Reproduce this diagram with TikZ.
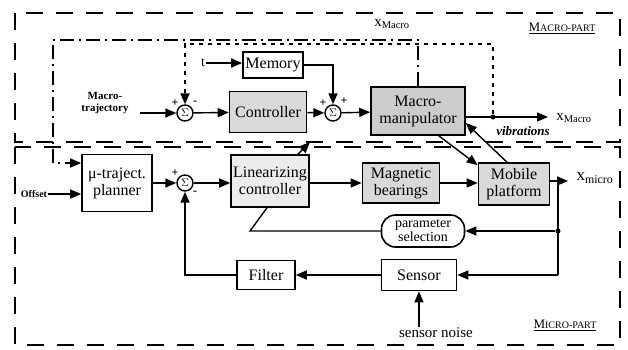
\documentclass[tikz,border=0pt]{standalone}
\usepackage{fontspec}
\setmainfont{Liberation Serif}
\usetikzlibrary{arrows.meta}

\begin{document}
\begin{tikzpicture}[x=1pt,y=-1pt,
        >={Triangle[length=11pt,width=9pt]},
        block/.style={draw,line width=1.6pt,align=center,inner sep=1pt,
            font=\fontsize{16}{17}\selectfont},
        shaded/.style={block,fill=gray!30},
        sumnode/.style={circle,draw,line width=1.4pt,inner sep=0pt,
            minimum size=16pt,font=\fontsize{11}{11}\selectfont},
        link/.style={line width=1.4pt},
        xlink/.style={line width=1.6pt,dash pattern=on 14pt off 5pt on 2pt off 5pt},
        fblink/.style={line width=2pt,dash pattern=on 4pt off 5pt},
        part/.style={line width=2pt,dash pattern=on 17pt off 13pt},
        dot/.style={circle,fill,inner sep=0pt,minimum size=5pt},
        sign/.style={inner sep=0pt,font=\fontsize{12}{12}\selectfont\bfseries},
        tag/.style={inner sep=1pt,align=center}]
        \useasboundingbox (0,0) rectangle (628,349);
        \draw[part] (15,13) rectangle (620,142);
        \draw[part] (15,147) rectangle (620,345);
        \node[tag,font=\fontsize{13}{13}\selectfont] (macrotag) at (562,28)
            {\underline{M{\fontsize{10}{10}\selectfont ACRO-PART}}};
        \node[tag,font=\fontsize{13}{13}\selectfont] (microtag) at (565,325)
            {\underline{M{\fontsize{10}{10}\selectfont ICRO-PART}}};

        \node[block,minimum width=60pt,minimum height=26pt] (memory) at (273,65) {Memory};
        \node[shaded,minimum width=77pt,minimum height=41pt] (controller) at (268,112) {Controller};
        \node[shaded,fill=gray!40,minimum width=94pt,minimum height=48pt] (mm) at (418,111) {Macro-\\manipulator};
        \node[block,minimum width=70pt,minimum height=57pt] (planner) at (117,183) {μ-traject.\\planner};
        \node[shaded,fill=gray!15,minimum width=78pt,minimum height=52pt] (lincon) at (270,181) {Linearizing\\controller};
        \node[shaded,minimum width=77pt,minimum height=40pt] (bearings) at (401,183) {Magnetic\\bearings};
        \node[shaded,minimum width=71pt,minimum height=42pt] (platform) at (514,184) {Mobile\\platform};
        \node[block,rounded corners=14pt,minimum width=83pt,minimum height=32pt,
            font=\fontsize{14}{14}\selectfont] (param) at (423,231) {parameter\\selection};
        \node[block,minimum width=75pt,minimum height=31pt] (sensor) at (419,275) {Sensor};
        \node[block,minimum width=58pt,minimum height=29pt] (filter) at (266,275) {Filter};

        \node[sumnode] (sum1) at (185,113) {$\Sigma$};
        \node[sumnode] (sum2) at (333,113) {$\Sigma$};
        \node[sumnode] (sum3) at (185,183) {$\Sigma$};
        \node[sign] at ([shift={(-10,-10)}]sum1) {+};
        \node[sign] at ([shift={(10,-10)}]sum1) {-};
        \node[sign] at ([shift={(-10,-10)}]sum2) {+};
        \node[sign] at ([shift={(11,-12)}]sum2) {+};
        \node[sign] at ([shift={(-10,-10)}]sum3) {+};
        \node[sign] at ([shift={(10,10)}]sum3) {-};

        \node[tag,font=\fontsize{11}{12}\selectfont\bfseries] (mtraj) at (105,103) {Macro-\\trajectory};
        \node[tag,font=\fontsize{10}{10}\selectfont\bfseries] (offset) at (34,194) {Offset};
        \node[tag,font=\fontsize{14}{14}\selectfont] (tin) at (203,63) {t};
        \node[tag,font=\fontsize{15}{15}\selectfont] (xtop) at (392,24) {x\textsubscript{Macro}};
        \node[tag,font=\fontsize{15}{15}\selectfont] (xmaclab) at (574,118) {x\textsubscript{Macro}};
        \node[tag,font=\fontsize{13}{13}\selectfont\bfseries\itshape] (vib) at (523,131) {vibrations};
        \node[tag,font=\fontsize{17}{17}\selectfont] (xmiclab) at (595,178) {x\textsubscript{micro}};
        \node[tag,font=\fontsize{15}{15}\selectfont] (noise) at (436,333) {sensor noise};

        \coordinate (mtin) at (140,113);
        \coordinate (xout) at (548,117);
        \node[dot] (vdot) at (493,117) {};
        \coordinate (xmic) at (568,181);
        \coordinate (vtop) at (558,181);
        \node[dot] (pdot) at (558,231) {};
        \coordinate (vbot) at (558,275);
        \coordinate (pbend) at (250,231);
        \coordinate (lcup) at (310,142);

        \draw[link,->] (mtin) -- (sum1);
        \draw[link,->] (sum1) -- (controller);
        \draw[link,->] (controller) -- (sum2);
        \draw[link,->] (sum2) -- (mm);
        \draw[link,->] (tin.east) -- (tin.east -| memory.west);
        \draw[link,->] (memory.east) -| (sum2.north);
        \draw[link,->] (mm.east |- xout) -- (xout);
        \draw[fblink,->] (vdot) -- (vdot |- 0,44) -- (sum1 |- 0,44) -- (sum1.north);
        \draw[xlink,->] (mm.north) -- (mm.north |- 0,40) -- (53,40) -- (53,163) -- (planner.west |- 0,163);

        \draw[link,->] (offset.east) -- (offset.east -| planner.west);
        \draw[link,->] (planner) -- (sum3);
        \draw[link,->] (sum3) -- (sum3 -| lincon.west);
        \draw[link,->] (lincon.east |- bearings) -- (bearings);
        \draw[link,->] (bearings) -- (bearings -| platform.west);
        \draw[link,->] (platform.east |- xmic) -- (xmic);
        \draw[link,->] ([xshift=-12pt]lincon.north east) -- (lcup);
        \draw[link,->] ([xshift=-27pt]mm.south east) -- ([yshift=-3pt]platform.north west);
        \draw[link,->] ([xshift=-7pt]platform.north) -- ([yshift=-12pt]mm.east);
        \draw[link] (vtop) -- (vbot);
        \draw[link,->] (pdot) -- (param.east);
        \draw[link] (param.west) -- (pbend) -- ([xshift=-3pt]lincon.south);
        \draw[link,->] (vbot) -- (sensor.east);
        \draw[link,->] (sensor.west) -- (filter.east);
        \draw[link,->] (filter.west) -| (sum3.south);
        \draw[link,->] (noise.north -| sensor.south) -- (sensor.south);
    \end{tikzpicture}
\end{document}
